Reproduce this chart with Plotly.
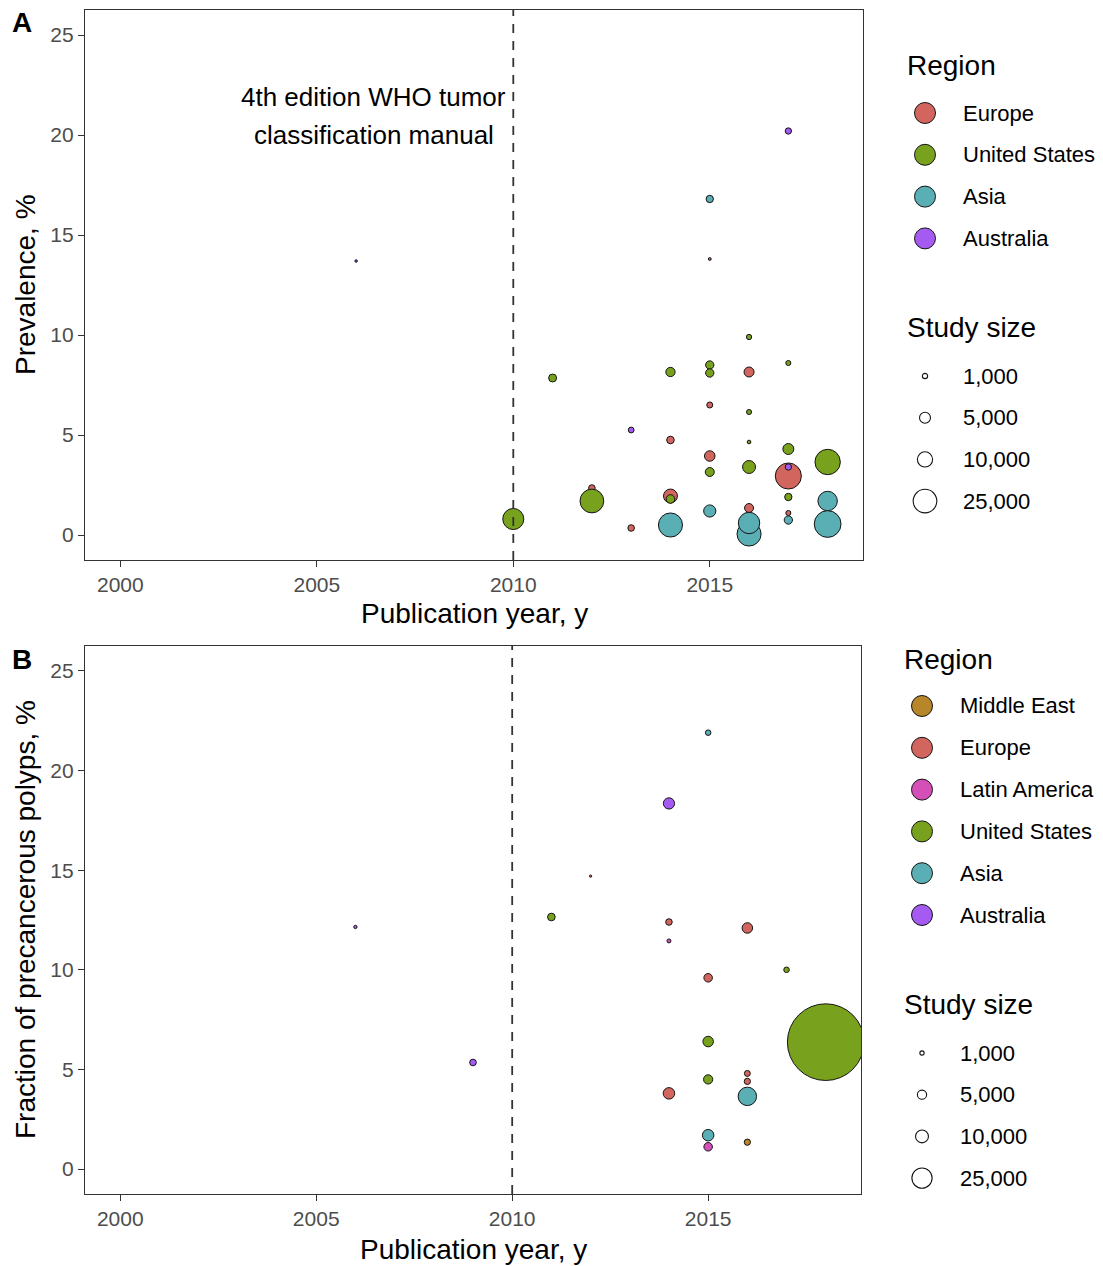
import math
import plotly.graph_objects as go

W, H = 1103, 1266
FONT = "Liberation Sans, Arial, sans-serif"

REGION_COLORS = {
    "Middle East": "#B8862A",
    "Europe": "#D2665E",
    "Latin America": "#D44FB8",
    "United States": "#78A21E",
    "Asia": "#5AAFB5",
    "Australia": "#A55AF2",
}

# ---- Panel A: prevalence by publication year ----
a_year = [2006, 2010, 2011, 2012, 2012, 2013, 2013, 2014, 2014, 2014, 2014, 2014,
          2015, 2015, 2015, 2015, 2015, 2015, 2015, 2015,
          2016, 2016, 2016, 2016, 2016, 2016, 2016, 2016,
          2017, 2017, 2017, 2017, 2017, 2017, 2017, 2017,
          2018, 2018, 2018]
a_value = [13.7, 0.8, 7.85, 2.35, 1.7, 5.25, 0.35, 8.15, 4.75, 1.95, 1.8, 0.5,
           16.8, 13.8, 8.5, 8.1, 6.5, 3.95, 3.15, 1.2,
           9.9, 8.15, 6.15, 4.65, 3.4, 1.35, 0.05, 0.6,
           20.2, 8.6, 4.3, 2.95, 3.4, 1.9, 1.1, 0.75,
           3.65, 1.7, 0.55]
a_n = [150, 19800, 2500, 1650, 25300, 1250, 1650, 3500, 2250, 8300, 2950, 26000,
       2100, 220, 2750, 2750, 1350, 4600, 3250, 6300,
       1000, 4100, 900, 420, 7100, 3250, 26000, 20400,
       1500, 900, 5000, 30600, 1500, 2100, 900, 2750,
       28900, 16700, 32300]
a_region = ["Australia", "United States", "United States", "Europe", "United States",
            "Australia", "Europe", "United States", "Europe", "Europe", "United States", "Asia",
            "Asia", "Europe", "United States", "United States", "Europe", "Europe",
            "United States", "Asia",
            "United States", "Europe", "United States", "United States", "United States",
            "Europe", "Asia", "Asia",
            "Australia", "United States", "United States", "Europe", "Australia",
            "United States", "Europe", "Asia",
            "United States", "Asia", "Asia"]
a_regions_legend = ["Europe", "United States", "Asia", "Australia"]

# ---- Panel B: fraction of precancerous polyps ----
b_year = [2006, 2009, 2011, 2012, 2014, 2014, 2014, 2014,
          2015, 2015, 2015, 2015, 2015, 2015,
          2016, 2016, 2016, 2016, 2016, 2017, 2018]
b_value = [12.15, 5.35, 12.65, 14.7, 18.35, 12.4, 11.45, 3.8,
           21.9, 9.6, 6.4, 4.5, 1.7, 1.12,
           12.1, 4.8, 4.4, 3.65, 1.35, 10.0, 6.37]
b_n = [560, 2540, 3400, 250, 7500, 2460, 850, 7900,
       1740, 4270, 6580, 5020, 7900, 4270,
       6580, 2010, 2230, 20760, 2230, 1740, 367600]
b_region = ["Australia", "Australia", "United States", "Europe", "Australia", "Europe",
            "Latin America", "Europe",
            "Asia", "Europe", "United States", "United States", "Asia", "Latin America",
            "Europe", "Europe", "Europe", "Asia", "Middle East", "United States",
            "United States"]
b_regions_legend = ["Middle East", "Europe", "Latin America", "United States", "Asia",
                    "Australia"]

size_breaks = [1000, 5000, 10000, 25000]
size_labels = ["1,000", "5,000", "10,000", "25,000"]
year_ticks = [2000, 2005, 2010, 2015]
value_ticks = [0, 5, 10, 15, 20, 25]
who_year = 2010
who_label = ["4th edition WHO tumor", "classification manual"]


def bubble_px(n, a, b):
    """Marker diameter in pixels, growing with the square root of study size."""
    return a + b * math.sqrt(n)


SIZE_A = (1.7, 0.145)
SIZE_B = (1.3, 0.126)


def px(x):
    return x / W


def py(y):
    return 1 - y / H


fig = go.Figure()

fig.add_trace(go.Scatter(
    x=a_year, y=a_value, mode="markers", xaxis="x", yaxis="y", showlegend=False,
    marker=dict(size=[bubble_px(n, *SIZE_A) - 1 for n in a_n],
                color=[REGION_COLORS[r] for r in a_region],
                line=dict(color="#141414", width=1), opacity=1),
))
fig.add_trace(go.Scatter(
    x=b_year, y=b_value, mode="markers", xaxis="x2", yaxis="y2", showlegend=False,
    marker=dict(size=[bubble_px(n, *SIZE_B) - 1 for n in b_n],
                color=[REGION_COLORS[r] for r in b_region],
                line=dict(color="#141414", width=1), opacity=1),
))

axis_common = dict(
    showline=True, linecolor="#333333", linewidth=1.4, mirror=True,
    ticks="outside", ticklen=6, tickwidth=1.3, tickcolor="#333333",
    showgrid=False, zeroline=False,
    tickfont=dict(family=FONT, size=21, color="#4D4D4D"),
)

fig.update_layout(
    width=W, height=H, margin=dict(l=0, r=0, t=0, b=0),
    paper_bgcolor="white", plot_bgcolor="white",
    font=dict(family=FONT, color="black"),
    xaxis=dict(domain=[px(85), px(863)], range=[1999.1, 2018.9], tickvals=year_ticks,
               anchor="y", **axis_common),
    yaxis=dict(domain=[py(560), py(10)], range=[-1.25, 26.25], tickvals=value_ticks,
               anchor="x", **axis_common),
    xaxis2=dict(domain=[px(85), px(861)], range=[1999.1, 2018.9], tickvals=year_ticks,
                anchor="y2", **axis_common),
    yaxis2=dict(domain=[py(1194), py(646)], range=[-1.25, 26.25], tickvals=value_ticks,
                anchor="x2", **axis_common),
)

shapes = []
annotations = []

# dashed reference line at the WHO classification year
for xr, yr in (("x", "y domain"), ("x2", "y2 domain")):
    shapes.append(dict(type="line", xref=xr, yref=yr, x0=who_year, x1=who_year, y0=0, y1=1,
                       line=dict(color="#333333", width=1.8, dash="9px,8px")))

# two-line label beside the reference line
for line_text, yval in zip(who_label, (21.9, 20.0)):
    annotations.append(dict(
        xref="x", yref="y", x=2006.45, y=yval, xanchor="center", yanchor="middle",
        text=line_text, showarrow=False,
        font=dict(family=FONT, size=26, color="black"),
    ))


def text(x, y, s, size, xanchor="left", angle=0, bold=False, color="black"):
    annotations.append(dict(
        xref="paper", yref="paper", x=px(x), y=py(y), xanchor=xanchor, yanchor="middle",
        text=f"<b>{s}</b>" if bold else s, showarrow=False, textangle=angle,
        font=dict(family=FONT, size=size, color=color),
    ))


def circle(x, y, d, fill, line_color="#141414", lw=1.0):
    r = d / 2
    shapes.append(dict(
        type="circle", xref="paper", yref="paper", xsizemode="pixel", ysizemode="pixel",
        xanchor=px(x), yanchor=py(y), x0=-r, x1=r, y0=-r, y1=r,
        fillcolor=fill, line=dict(color=line_color, width=lw),
    ))


# panel letters and axis titles
text(22, 23, "A", 28, xanchor="center", bold=True)
text(22, 659, "B", 28, xanchor="center", bold=True)
text(474, 614, "Publication year, y", 28, xanchor="center")
text(473, 1249, "Publication year, y", 28, xanchor="center")
text(25, 285, "Prevalence, %", 28, xanchor="center", angle=-90)
text(25, 920, "Fraction of precancerous polyps, %", 28, xanchor="center", angle=-90)


def legend(x0, title_y, regions, size_title_y, size_params):
    text(x0, title_y, "Region", 28)
    for i, reg in enumerate(regions):
        yy = title_y + 47 + 41.8 * i
        circle(x0 + 20, yy, 21, REGION_COLORS[reg])
        text(x0 + 56, yy, reg, 22)
    text(x0, size_title_y, "Study size", 28)
    for i, (brk, lab) in enumerate(zip(size_breaks, size_labels)):
        yy = size_title_y + 49 + 41.7 * i
        circle(x0 + 20, yy, bubble_px(brk, *size_params) - 1, "white", lw=1.1)
        text(x0 + 56, yy, lab, 22)


legend(905, 66, a_regions_legend, 327, SIZE_A)
legend(902, 659, b_regions_legend, 1004, SIZE_B)

fig.update_layout(shapes=shapes, annotations=annotations)
fig.write_html("out.html")
